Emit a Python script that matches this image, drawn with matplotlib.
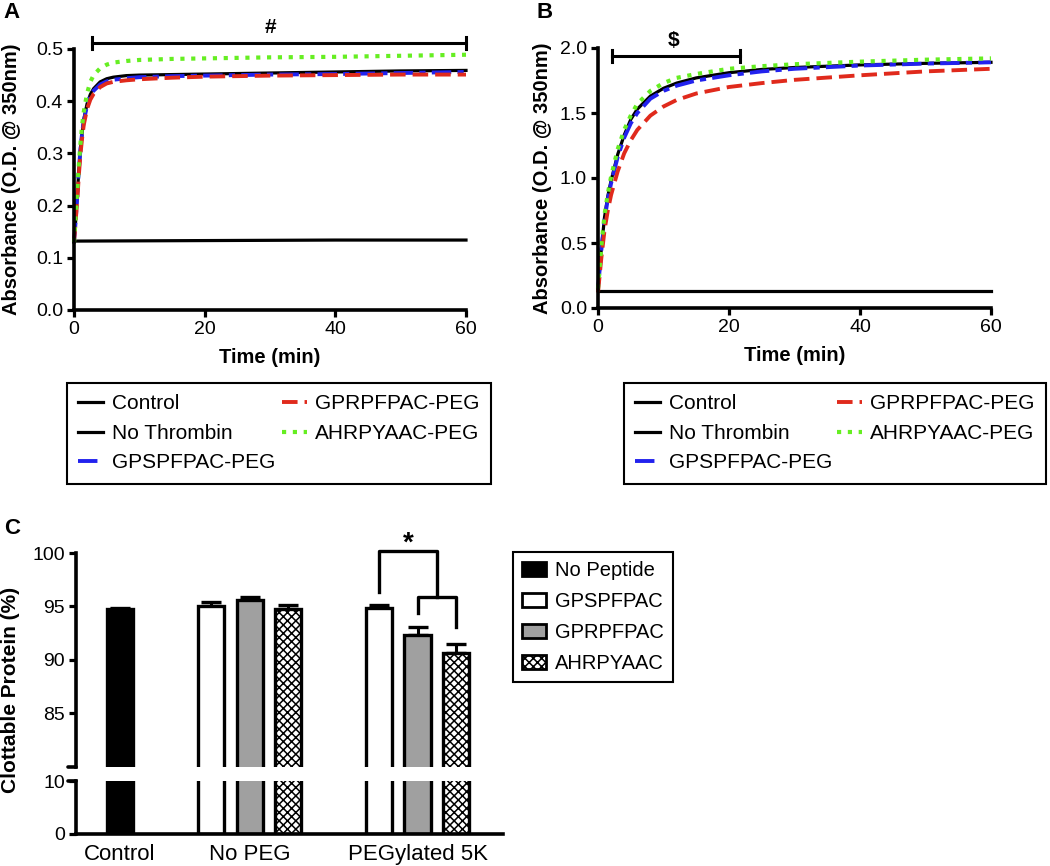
import numpy as np
import matplotlib
matplotlib.use("Agg")
import matplotlib.pyplot as plt
from matplotlib.patches import Patch

plt.rcParams['font.family'] = ['Liberation Sans', 'DejaVu Sans']
plt.rcParams['hatch.linewidth'] = 1.1

# ---- data: panel A (turbidity, thrombin) ----
time_a = [0, 0.25, 0.5, 0.75, 1, 1.25, 1.5, 2, 2.5, 3, 4, 5, 6, 8, 10, 15, 20, 30, 40, 50, 60]
a_control = [0.13, 0.17, 0.22, 0.27, 0.31, 0.34, 0.365, 0.395, 0.413, 0.424, 0.437, 0.443, 0.446,
             0.449, 0.450, 0.451, 0.452, 0.454, 0.456, 0.458, 0.459]
a_gpsp = [0.13, 0.17, 0.22, 0.27, 0.31, 0.34, 0.362, 0.392, 0.410, 0.420, 0.432, 0.438, 0.441,
          0.444, 0.446, 0.448, 0.449, 0.451, 0.452, 0.454, 0.456]
a_gprp = [0.13, 0.17, 0.21, 0.26, 0.30, 0.33, 0.355, 0.385, 0.403, 0.414, 0.427, 0.434, 0.437,
          0.440, 0.442, 0.445, 0.447, 0.449, 0.450, 0.451, 0.451]
a_ahrp = [0.13, 0.18, 0.23, 0.28, 0.32, 0.355, 0.38, 0.415, 0.437, 0.450, 0.463, 0.470, 0.474,
          0.477, 0.479, 0.481, 0.482, 0.484, 0.485, 0.487, 0.489]
time_nt = [0, 20, 40, 60]
a_nothrombin = [0.132, 0.133, 0.134, 0.134]

# ---- data: panel B ----
time_b = [0, 0.5, 1, 1.5, 2, 3, 4, 5, 6, 8, 10, 12, 15, 20, 25, 30, 40, 50, 60]
b_control = [0.15, 0.45, 0.70, 0.86, 0.98, 1.18, 1.33, 1.45, 1.53, 1.63, 1.69, 1.73, 1.77, 1.81,
             1.835, 1.85, 1.87, 1.882, 1.89]
b_gpsp = [0.15, 0.44, 0.68, 0.84, 0.96, 1.16, 1.31, 1.42, 1.50, 1.61, 1.67, 1.71, 1.75, 1.79,
          1.82, 1.84, 1.865, 1.88, 1.89]
b_gprp = [0.12, 0.38, 0.60, 0.75, 0.87, 1.05, 1.19, 1.29, 1.37, 1.48, 1.55, 1.60, 1.65, 1.70,
          1.73, 1.755, 1.79, 1.82, 1.84]
b_ahrp = [0.15, 0.47, 0.72, 0.88, 1.01, 1.22, 1.37, 1.48, 1.57, 1.67, 1.73, 1.77, 1.80, 1.84,
          1.86, 1.875, 1.895, 1.91, 1.92]
b_nothrombin = [0.13, 0.13, 0.13, 0.13]

series_labels = ['Control', 'No Thrombin', 'GPSPFPAC-PEG', 'GPRPFPAC-PEG', 'AHRPYAAC-PEG']

# ---- data: panel C (clottable protein) ----
groups = ['Control', 'No PEG', 'PEGylated 5K']
peptides = ['No Peptide', 'GPSPFPAC', 'GPRPFPAC', 'AHRPYAAC']
control_val, control_err = [94.72], [0.1]
nopeg_vals, nopeg_errs = [95.0, 95.65, 94.72], [0.45, 0.25, 0.42]
peg_vals, peg_errs = [94.85, 92.3, 90.66], [0.3, 0.83, 0.8]

W, H = 1050, 866
fig = plt.figure(figsize=(W / 100, H / 100), dpi=100)


def px_axes(l, t, r, b):
    return fig.add_axes([l / W, 1 - b / H, (r - l) / W, (b - t) / H])


RED, GREEN, BLUE = '#e02a1c', '#66ee22', '#2222ee'
styles = [dict(color='black', lw=2.3, ls='-'),
          dict(color='black', lw=2.3, ls='-'),
          dict(color=BLUE, lw=2.8, ls=(0, (5, 1.6, 1.6, 1.6))),
          dict(color=RED, lw=2.8, ls=(0, (4, 1.8))),
          dict(color=GREEN, lw=3.0, ls=(0, (1, 1.6)))]


def style_curve_axes(ax, ymax, yticks):
    for s in ('top', 'right'):
        ax.spines[s].set_visible(False)
    for s in ('left', 'bottom'):
        ax.spines[s].set_linewidth(2.6)
    ax.set_xlim(0, 60)
    ax.set_ylim(0, ymax)
    ax.set_xticks([0, 20, 40, 60])
    ax.set_yticks(yticks)
    ax.yaxis.set_major_formatter(matplotlib.ticker.FormatStrFormatter('%.1f'))
    ax.tick_params(width=2.3, length=5, labelsize=14, pad=3)
    ax.set_xlabel('Time (min)', fontsize=14.5, fontweight='bold')
    ax.set_ylabel('Absorbance (O.D. @ 350nm)', fontsize=14.5, fontweight='bold')
    ax.xaxis.set_label_coords(0.5, -0.145)


def add_legend(ax, handles, x0, x1):
    leg = ax.legend(handles, series_labels, ncol=2, loc='upper left',
                    bbox_to_anchor=(x0 / W, 1 - 383 / H, (x1 - x0) / W, 0),
                    bbox_transform=fig.transFigure, mode='expand', borderaxespad=0,
                    fancybox=False, edgecolor='black', framealpha=1, fontsize=15,
                    handlelength=1.2, handletextpad=0.4, labelspacing=0.5, borderpad=0.55)
    leg.get_frame().set_linewidth(1.5)


# ---- panel A ----
axA = px_axes(74, 49, 466, 310)
hA = []
for t, y, st in zip([time_a, time_nt, time_a, time_a, time_a],
                    [a_control, a_nothrombin, a_gpsp, a_gprp, a_ahrp], styles):
    hA.append(axA.plot(t, y, clip_on=False, **st)[0])
style_curve_axes(axA, 0.5, np.arange(0, 0.51, 0.1))
axA.yaxis.set_label_coords(-0.135, 0.5)
add_legend(axA, hA, 67, 491)

# significance bar A
ya, ca = 0.5115, 0.011
axA.plot([2.75, 60], [ya, ya], color='black', lw=2.2, clip_on=False)
for xe in (2.75, 60):
    axA.plot([xe, xe], [ya - ca, ya + ca], color='black', lw=2.2, clip_on=False)
axA.text(30, 0.542, '#', ha='center', va='center', fontsize=15, fontweight='bold')

# ---- panel B ----
axB = px_axes(598, 48, 991, 308)
hB = []
for t, y, st in zip([time_b, time_nt, time_b, time_b, time_b],
                    [b_control, b_nothrombin, b_gpsp, b_gprp, b_ahrp], styles):
    hB.append(axB.plot(t, y, clip_on=False, **st)[0])
style_curve_axes(axB, 2.0, np.arange(0, 2.01, 0.5))
axB.yaxis.set_label_coords(-0.117, 0.5)
add_legend(axB, hB, 624, 1046)

yb, cb = 1.938, 0.045
axB.plot([2.2, 21.7], [yb, yb], color='black', lw=2.2, clip_on=False)
for xe in (2.2, 21.7):
    axB.plot([xe, xe], [yb - cb, yb + cb], color='black', lw=2.2, clip_on=False)
axB.text(11.6, 2.06, '$', ha='center', va='center', fontsize=15, fontweight='bold')

# ---- panel C (broken y axis) ----
axC1 = px_axes(76, 553, 503, 767)
axC2 = px_axes(76, 781, 503, 834)

bar_w = 0.68
group_start = [0.0, 2.37, 6.73]
fills = [dict(color='black', hatch=None),
         dict(color='white', hatch=None),
         dict(color='#a0a0a0', hatch=None),
         dict(color='white', hatch='xxxx')]

bar_sets = [(group_start[0], control_val, control_err, [0]),
            (group_start[1], nopeg_vals, nopeg_errs, [1, 2, 3]),
            (group_start[2], peg_vals, peg_errs, [1, 2, 3])]

for ax in (axC1, axC2):
    for x0, vals, errs, kinds in bar_sets:
        xs = x0 + np.arange(len(vals))
        for xi, v, k in zip(xs, vals, kinds):
            f = fills[k]
            ax.bar(xi, v, width=bar_w, color=f['color'], edgecolor='black',
                   hatch=f['hatch'], linewidth=2.4, zorder=2)
        ax.errorbar(xs, vals, yerr=[np.zeros(len(vals)), errs], fmt='none',
                    ecolor='black', elinewidth=2.2, capsize=7, capthick=2.4, zorder=1)
    ax.set_xlim(-1.14, 9.95)
    for s in ('top', 'right'):
        ax.spines[s].set_visible(False)
    ax.spines['left'].set_linewidth(2.6)
    ax.spines['bottom'].set_linewidth(2.6)
    ax.tick_params(axis='y', width=2.3, length=5, labelsize=14, pad=3)

axC1.set_ylim(80, 100)
axC1.set_yticks([85, 90, 95, 100])
axC1.spines['bottom'].set_visible(False)
axC1.set_xticks([])

axC2.set_ylim(0, 10)
axC2.set_yticks([0, 10])
axC2.set_xticks([group_start[0], group_start[1] + 1, group_start[2] + 1])
axC2.set_xticklabels(groups, fontsize=16)
axC2.tick_params(axis='x', length=0, pad=7)

# break stubs
axC1.plot([-0.018, 0], [0, 0], transform=axC1.transAxes, color='black', lw=2.6,
          clip_on=False, solid_capstyle='round')
axC2.plot([-0.018, 0], [1, 1], transform=axC2.transAxes, color='black', lw=2.6,
          clip_on=False, solid_capstyle='round')

# significance bracket C
xw, xg, xc = group_start[2], group_start[2] + 1, group_start[2] + 2
xmid = (xg + xc) / 2
kw = dict(color='black', lw=2.4, clip_on=False)
axC1.plot([xw, xw, xmid, xmid], [96.35, 100.2, 100.2, 95.9], **kw)
axC1.plot([xg, xg, xc, xc], [94.4, 95.9, 95.9, 93.1], **kw)
axC1.text((xw + xmid) / 2, 100.9, '*', ha='center', va='center', fontsize=20, fontweight='bold')

fig.text(11 / W, 1 - 690 / H, 'Clottable Protein (%)', rotation=90, ha='center', va='center',
         fontsize=15, fontweight='bold')

legend_handles = [Patch(facecolor=f['color'], edgecolor='black', hatch=f['hatch'], linewidth=2)
                  for f in fills]
legC = axC1.legend(legend_handles, peptides, loc='upper left', bbox_to_anchor=(513 / W, 1 - 552 / H),
                   bbox_transform=fig.transFigure, borderaxespad=0, fancybox=False,
                   edgecolor='black', framealpha=1, fontsize=14.5, handlelength=1.2,
                   handleheight=0.7, handletextpad=0.45, labelspacing=0.6, borderpad=0.45)
legC.get_frame().set_linewidth(1.5)

# panel letters
for lbl, x, y in (('A', 12, 13), ('B', 545, 13), ('C', 12, 529)):
    fig.text(x / W, 1 - y / H, lbl, ha='center', va='center', fontsize=16, fontweight='bold')

fig.savefig('out.png', dpi=100)
